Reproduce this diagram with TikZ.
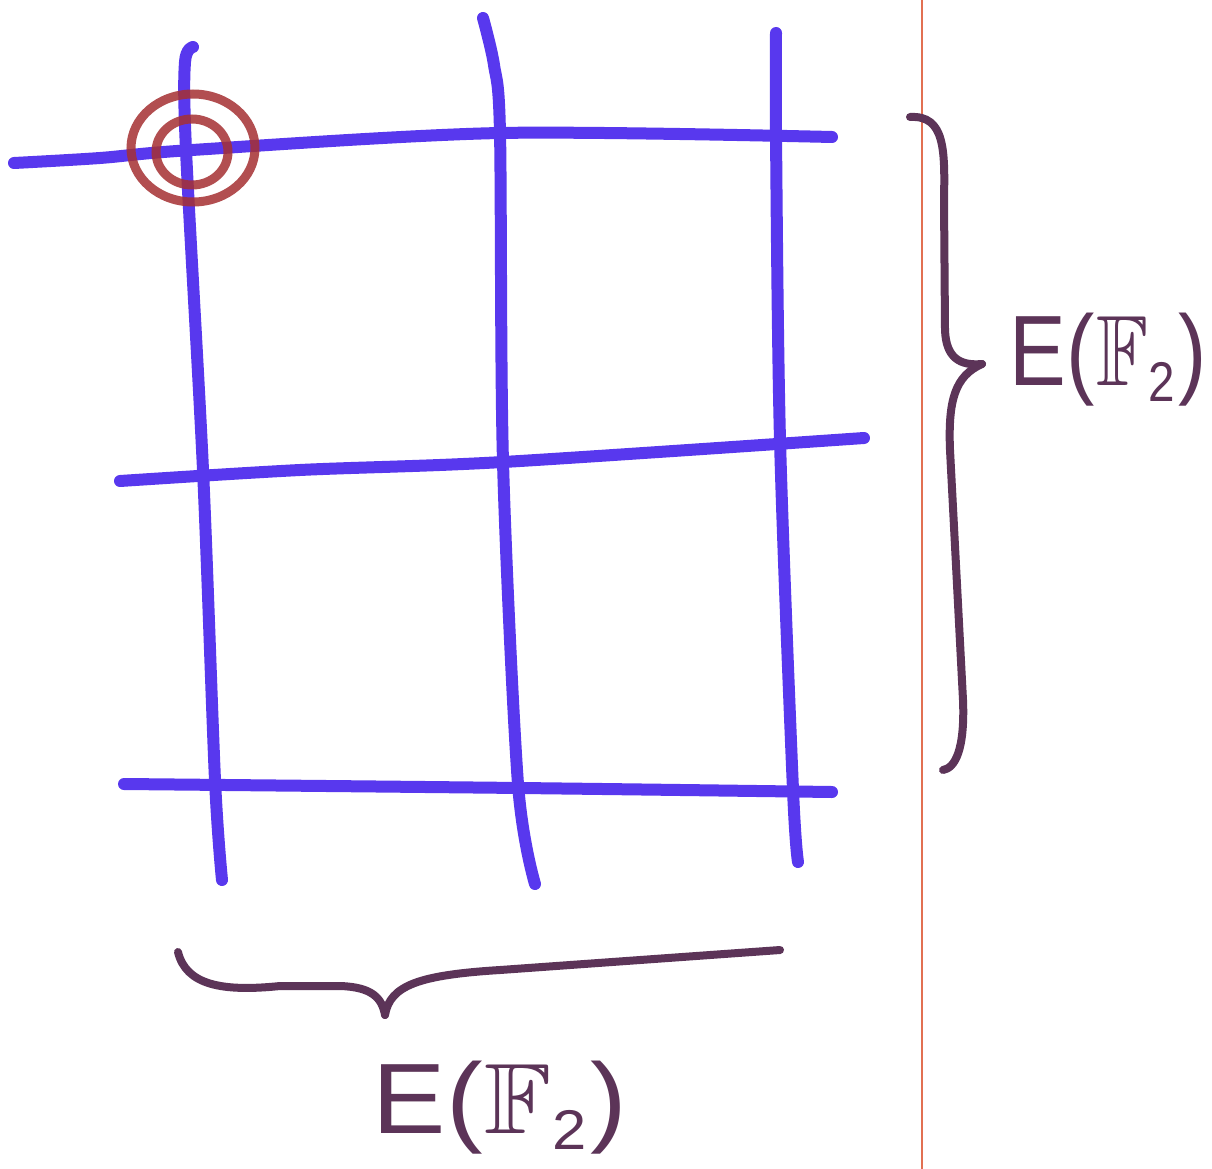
\documentclass[tikz,border=0pt]{standalone}
\usepackage{fontspec}
\setmainfont{Liberation Sans}
\usepackage{amssymb}
\definecolor{gridblue}{RGB}{88,56,238}
\definecolor{ringred}{RGB}{165,48,50}
\definecolor{bracepurple}{RGB}{92,52,88}
\definecolor{marginred}{RGB}{226,112,82}
\newcommand{\EFtwo}{E(\kern2pt$\mathbb{F}$\raisebox{-16pt}{\fontsize{56}{56}\selectfont 2}\kern4pt)}
\begin{document}
\begin{tikzpicture}[
    x=1pt, y=-1pt,
    gridline/.style={draw=gridblue, line width=12pt, line cap=round, line join=round},
    ring/.style={draw=ringred, line width=9pt, opacity=0.85},
    bracestroke/.style={draw=bracepurple, line width=8pt, line cap=round, line join=round},
    label/.style={text=bracepurple, font=\fontsize{100}{110}\selectfont, inner sep=0pt},
]
\useasboundingbox[fill=white] (0,0) rectangle (1212,1169);

% margin
\draw[marginred, line width=2pt] (922,0) -- (922,1169);

% vertical lines
\draw[gridline] plot[smooth] coordinates {(193,47) (185,62) (186,150) (203,470) (215,780) (222,880)};
\draw[gridline] plot[smooth] coordinates {(483,18) (494,65) (500,133) (503,462) (518,784) (535,884)};
\draw[gridline] plot[smooth] coordinates {(776,33) (776,135) (780,440) (793,790) (798,862)};

% horizontal lines
\draw[gridline] plot[smooth] coordinates {(14,163) (100,158) (192,150) (500,133) (832,137)};
\draw[gridline] plot[smooth] coordinates {(120,481) (300,470) (503,462) (864,438)};
\draw[gridline] plot[smooth] coordinates {(124,784) (520,788) (832,792)};

% rings
\draw[ring] (193,148) ellipse [x radius=62, y radius=54];
\draw[ring] (192,152) ellipse [x radius=36, y radius=33];

% right brace
\draw[bracestroke] (910,117) .. controls (945,115) and (945,150) .. (944,200)
    -- (945,330) .. controls (946,358) and (960,366) .. (982,364);
\draw[bracestroke] (982,364) .. controls (955,376) and (948,400) .. (950,450)
    -- (963,700) .. controls (965,750) and (955,768) .. (943,770);

% bottom brace
\draw[bracestroke] (178,952) .. controls (186,985) and (222,992) .. (280,986)
    -- (340,986) .. controls (372,987) and (382,998) .. (385,1015);
\draw[bracestroke] (385,1015) .. controls (390,985) and (420,975) .. (500,970)
    -- (780,950);

% labels
\node[label] (rightlab) at (1108,360) {\scalebox{0.85}[1]{\EFtwo}};
\node[label] (bottomlab) at (500,1108) {\scalebox{1.1}[1]{\EFtwo}};

\end{tikzpicture}
\end{document}
